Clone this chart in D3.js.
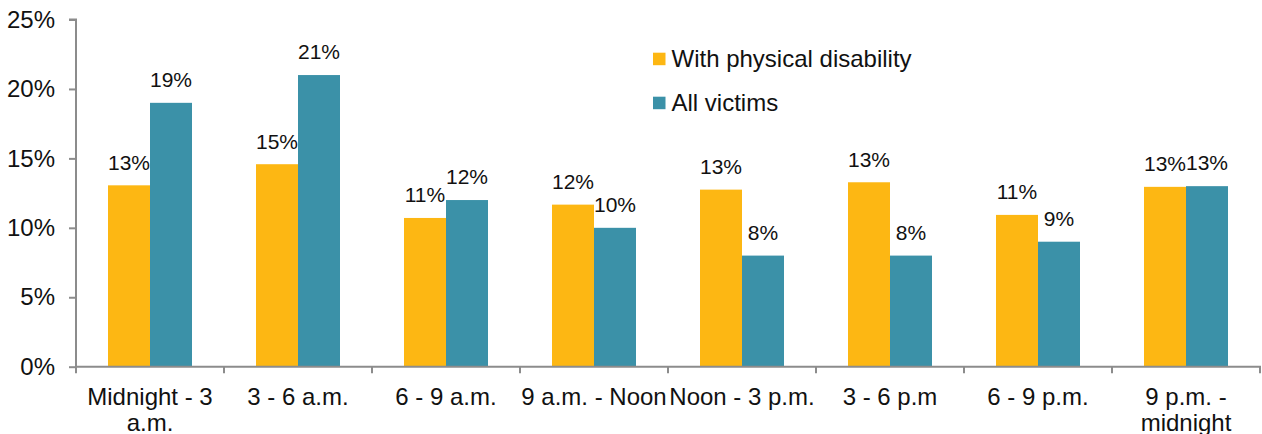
<!DOCTYPE html>
<html>
<head>
<meta charset="utf-8">
<script src="https://cdn.jsdelivr.net/npm/d3@7"></script>
<style>
  html, body { margin: 0; padding: 0; background: #fff; }
  svg { display: block; font-family: "Liberation Sans", Arial, sans-serif; }
</style>
</head>
<body>
<svg id="chart" width="1262" height="434"></svg>
<script>
// Share of victims by time of day
const categories = ["Midnight - 3 a.m.", "3 - 6 a.m.", "6 - 9 a.m.", "9 a.m. - Noon",
                    "Noon - 3 p.m.", "3 - 6 p.m", "6 - 9 p.m.", "9 p.m. - midnight"];
const seriesNames = ["With physical disability", "All victims"];
const physicalDisability = [0.1306, 0.1458, 0.1071, 0.1167, 0.1275, 0.1328, 0.1093, 0.1295];
const allVictims = [0.19, 0.21, 0.12, 0.10, 0.08, 0.08, 0.09, 0.13];
const yTicks = [0, 0.05, 0.10, 0.15, 0.20, 0.25];

const colors = ["#FDB713", "#3B91A8"];
const seriesValues = [physicalDisability, allVictims];

const svg = d3.select("#chart");
const plotLeft = 76, plotRight = 1260, plotTop = 19.5, plotBottom = 366.7;

const x = d3.scaleBand()
  .domain(categories)
  .range([plotLeft, plotRight])
  .paddingInner(64 / 148)
  .paddingOuter(32 / 148);

const xs = d3.scaleBand()
  .domain(seriesNames)
  .range([0, x.bandwidth()]);

const y = d3.scaleLinear().domain([0, 0.25]).range([plotBottom, plotTop]);

const pct = d3.format(".0%");

// Bars
seriesNames.forEach((name, si) => {
  const rows = categories.map((c, i) => ({ c, v: seriesValues[si][i] }));
  svg.append("g")
    .selectAll("rect")
    .data(rows)
    .join("rect")
    .attr("x", d => x(d.c) + xs(name))
    .attr("y", d => y(d.v))
    .attr("width", xs.bandwidth())
    .attr("height", d => y(0) - y(d.v))
    .attr("fill", colors[si]);

  // Value labels
  svg.append("g")
    .selectAll("text")
    .data(rows)
    .join("text")
    .attr("x", d => x(d.c) + xs(name) + xs.bandwidth() / 2)
    .attr("y", d => y(d.v) - 15.7)
    .attr("text-anchor", "middle")
    .attr("font-size", 21)
    .attr("fill", "#111")
    .text(d => pct(d.v));
});

// Y axis
const yAxis = svg.append("g")
  .attr("transform", `translate(${plotLeft},0)`)
  .call(d3.axisLeft(y).tickValues(yTicks).tickFormat(pct).tickSize(7).tickPadding(14));
yAxis.select(".domain").attr("stroke", "#8c8c8c").attr("stroke-width", 2)
  .attr("d", `M-7,${plotTop}H0V${plotBottom}`);
yAxis.selectAll(".tick line").attr("stroke", "#8c8c8c").attr("stroke-width", 2);
yAxis.selectAll(".tick text").attr("font-size", 24).attr("fill", "#111")
  .attr("font-family", "Liberation Sans, Arial, sans-serif");

// X axis: baseline, boundary ticks, wrapped category labels
const gap = (x.step() - x.bandwidth()) / 2;
const boundaries = categories.map(c => x(c) - gap)
  .concat([x(categories[categories.length - 1]) + x.bandwidth() + gap]);
const xAxis = svg.append("g");
xAxis.append("line")
  .attr("x1", plotLeft - 1).attr("x2", plotRight + 1)
  .attr("y1", plotBottom).attr("y2", plotBottom)
  .attr("stroke", "#8c8c8c").attr("stroke-width", 2);
xAxis.selectAll("line.tick")
  .data(boundaries)
  .join("line")
  .attr("class", "tick")
  .attr("x1", d => d).attr("x2", d => d)
  .attr("y1", plotBottom).attr("y2", plotBottom + 6.5)
  .attr("stroke", "#8c8c8c").attr("stroke-width", 2);

const labels = xAxis.selectAll("text.cat")
  .data(categories)
  .join("text")
  .attr("class", "cat")
  .attr("x", d => x(d) + x.bandwidth() / 2)
  .attr("y", 405)
  .attr("text-anchor", "middle")
  .attr("font-size", 24)
  .attr("fill", "#111");

labels.each(function (d) {
  const t = d3.select(this);
  const words = d.split(" ");
  const cx = x(d) + x.bandwidth() / 2;
  let line = [];
  let tspan = t.append("tspan").attr("x", cx).attr("dy", 0);
  words.forEach(w => {
    line.push(w);
    tspan.text(line.join(" "));
    if (tspan.node().getComputedTextLength() > x.step() && line.length > 1) {
      line.pop();
      tspan.text(line.join(" "));
      line = [w];
      tspan = t.append("tspan").attr("x", cx).attr("dy", 26).text(w);
    }
  });
});

// Legend
const legend = svg.append("g");
seriesNames.forEach((name, i) => {
  const ly = 66.7 + i * 44;
  legend.append("rect")
    .attr("x", 653).attr("y", ly - 14)
    .attr("width", 12.5).attr("height", 12.5)
    .attr("fill", colors[i]);
  legend.append("text")
    .attr("x", 671.5).attr("y", ly)
    .attr("font-size", 24)
    .attr("fill", "#111")
    .text(name);
});
</script>
</body>
</html>
